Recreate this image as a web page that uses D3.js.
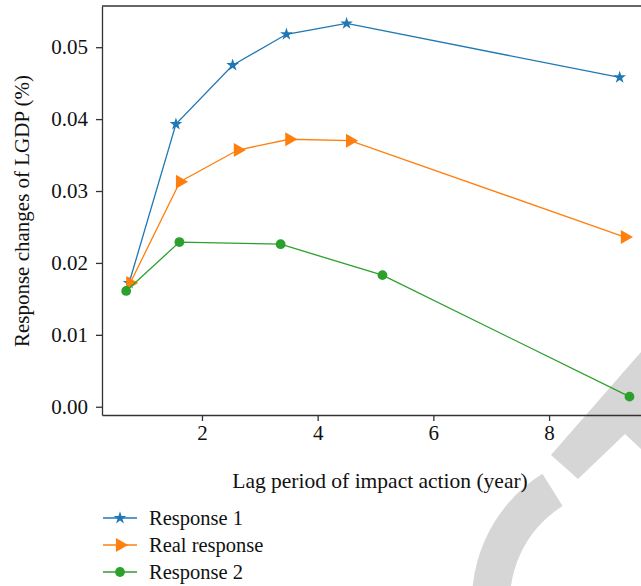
<!DOCTYPE html>
<html>
<head>
<meta charset="utf-8">
<title>impulse response</title>
<script src="https://cdn.jsdelivr.net/npm/d3@7"></script>
<style>
  body { margin: 0; background: #fff; }
  text { font-family: "Liberation Serif", "DejaVu Serif", serif; fill: #111; }
</style>
</head>
<body>
<script>
// values
var seriesNames = ["Response 1", "Real response", "Response 2"]
var lag1 = [0.74, 1.55, 2.53, 3.46, 4.50, 9.22]
var resp1 = [0.0172, 0.0393, 0.0475, 0.0518, 0.0533, 0.0458]
var lagReal = [0.76, 1.62, 2.62, 3.51, 4.56, 9.31]
var respReal = [0.0172, 0.0313, 0.0357, 0.0372, 0.0370, 0.0236]
var lag2 = [0.69, 1.61, 3.36, 5.12, 9.39]
var resp2 = [0.0161, 0.0229, 0.0226, 0.0183, 0.0014]
var xTicks = [2, 4, 6, 8]
var yTicks = [0, 0.01, 0.02, 0.03, 0.04, 0.05]

var w = 641, h = 586
var mLeft = 102, mRight = 648, mTop = 6, mBottom = 415

var svg = d3.select("body").append("svg").attr("width", w).attr("height", h)

// journal watermark in the corner
svg.append("path")
  .attr("d", d3.arc().innerRadius(112).outerRadius(150)
    .startAngle(-Math.PI * 0.56).endAngle(-Math.PI * 0.178)())
  .attr("transform", "translate(622,601)")
  .attr("fill", "#d6d6d6")
svg.append("polygon")
  .attr("points", "641,352 551,455 578,479 625,434 641,449")
  .attr("fill", "#d6d6d6")

var x = d3.scaleLinear().domain([0.272, 9.71]).range([mLeft, mRight])
var y = d3.scaleLinear().domain([-0.00115, 0.05573]).range([mBottom, mTop])

var series = [
  { name: seriesNames[0], xs: lag1, ys: resp1, color: "#1f77b4", sym: d3.symbolStar, size: 50, rot: 0 },
  { name: seriesNames[1], xs: lagReal, ys: respReal, color: "#ff7f0e", sym: d3.symbolTriangle, size: 85, rot: 90 },
  { name: seriesNames[2], xs: lag2, ys: resp2, color: "#2ca02c", sym: d3.symbolCircle, size: 75, rot: 0 }
]

var line = d3.line()
  .x(function(d) { return x(d[0]) })
  .y(function(d) { return y(d[1]) })

series.forEach(function(s) {
  var pts = d3.zip(s.xs, s.ys)
  svg.append("path")
    .datum(pts)
    .attr("d", line)
    .attr("fill", "none")
    .attr("stroke", s.color)
    .attr("stroke-width", 1.3)
  svg.selectAll(null)
    .data(pts)
    .enter()
    .append("path")
    .attr("d", d3.symbol().type(s.sym).size(s.size))
    .attr("transform", function(d) {
      return "translate(" + x(d[0]) + "," + y(d[1]) + ") rotate(" + s.rot + ")"
    })
    .attr("fill", s.color)
})

// axes
svg.append("g")
  .attr("class", "axis")
  .attr("transform", "translate(0," + mBottom + ")")
  .call(d3.axisBottom(x).tickValues(xTicks).tickFormat(d3.format("d")).tickSizeInner(6).tickSizeOuter(0).tickPadding(4))
svg.append("g")
  .attr("class", "axis")
  .attr("transform", "translate(" + mLeft + ",0)")
  .call(d3.axisLeft(y).tickValues(yTicks).tickFormat(d3.format(".2f")).tickSizeInner(6).tickSizeOuter(0).tickPadding(8))
svg.selectAll(".domain, .tick line").attr("stroke", "#333").attr("stroke-width", 1.3)
svg.selectAll(".tick text")
  .style("font-family", "'Liberation Serif', serif")
  .style("font-size", "21px")
  .attr("fill", "#111")
svg.append("line").attr("x1", mLeft).attr("x2", w).attr("y1", mTop).attr("y2", mTop)
  .attr("stroke", "#333").attr("stroke-width", 1.3)

svg.append("text")
  .attr("x", 380).attr("y", 488)
  .attr("text-anchor", "middle")
  .style("font-size", "21.5px")
  .text("Lag period of impact action (year)")
svg.append("text")
  .attr("transform", "translate(29,211) rotate(-90)")
  .attr("text-anchor", "middle")
  .style("font-size", "21px")
  .text("Response changes of LGDP (%)")

// legend
var leg = svg.selectAll(".leg")
  .data(series)
  .enter()
  .append("g")
  .attr("transform", function(d, i) { return "translate(103," + (518 + i * 27) + ")" })
leg.append("line").attr("x1", 0).attr("x2", 34)
  .attr("stroke", function(d) { return d.color }).attr("stroke-width", 1.3)
leg.append("path")
  .attr("d", function(d) { return d3.symbol().type(d.sym).size(d.size)() })
  .attr("transform", function(d) { return "translate(17,0) rotate(" + d.rot + ")" })
  .attr("fill", function(d) { return d.color })
leg.append("text")
  .attr("x", 46).attr("y", 7)
  .style("font-size", "20.5px")
  .text(function(d) { return d.name })
</script>
</body>
</html>
